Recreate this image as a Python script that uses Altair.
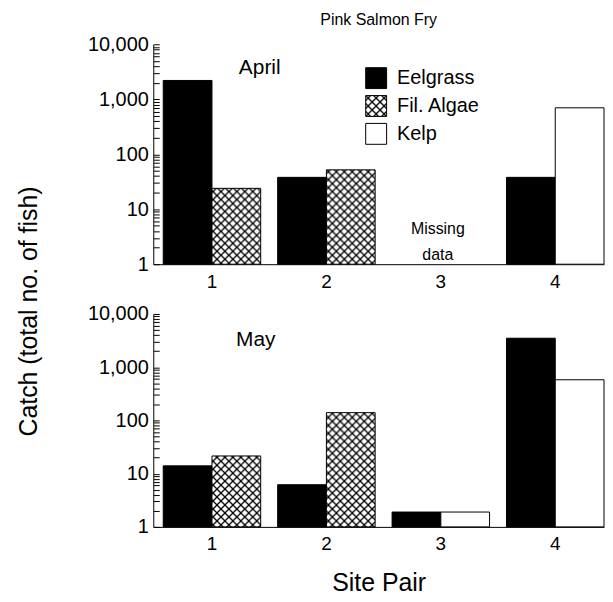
import altair as alt
import pandas as pd

# ---------------- data ----------------
sites = ["1", "2", "3", "4"]
other_habitat = ["Fil. Algae", "Fil. Algae", "Kelp", "Kelp"]
april_eelgrass = [2200, 38, None, 38]
april_other = [24, 52, None, 700]
may_eelgrass = [14, 6.2, 1.9, 3500]
may_other = [21.5, 140, 1.9, 580]
habitats = ["Eelgrass", "Fil. Algae", "Kelp"]
habitat_fills = ["black", "url(#xhatch)", "white"]
y_major = [1, 10, 100, 1000, 10000]
y_minor = [1, 2, 3, 4, 5, 6, 7, 8, 9,
           10, 20, 30, 40, 50, 60, 70, 80, 90,
           100, 200, 300, 400, 500, 600, 700, 800, 900,
           1000, 2000, 3000, 4000, 5000, 6000, 7000, 8000, 9000, 10000]
title_text = "Pink Salmon Fry"
y_title = "Catch  (total no. of fish)"
x_title = "Site Pair"
FONT = "Liberation Sans"


def rows(eel, oth):
    out = []
    for s, h, e, o in zip(sites, other_habitat, eel, oth):
        if e is not None:
            out.append({"site": s, "habitat": "Eelgrass", "slot": "a", "value": e})
        if o is not None:
            out.append({"site": s, "habitat": h, "slot": "b", "value": o})
    return pd.DataFrame(out)


W = 453


def panel(df, h, month, month_val, month_dx, top):
    yscale = alt.Scale(type="log", domain=[1, 10000], nice=False)
    xscale = alt.Scale(domain=sites, paddingInner=0.148, paddingOuter=0.0435, align=1)
    offscale = alt.Scale(domain=["a", "b"], paddingInner=0, paddingOuter=0)

    xaxis_kw = dict(labelAngle=0, ticks=False, labelPadding=8, labelFontSize=19,
                    domainColor="black", labelColor="black", grid=False)
    if top:
        xaxis_kw["title"] = None
    else:
        xaxis_kw.update(title=x_title, titleFontSize=25, titleFontWeight="normal",
                        titlePadding=17, titleColor="black")
    xaxis = alt.Axis(**xaxis_kw)

    yaxis_kw = dict(values=y_major, format=",", ticks=False, labelPadding=5,
                    labelFontSize=20, domainColor="black", labelColor="black", grid=False)
    if top:
        yaxis_kw.update(title=y_title, titleFontSize=25, titleFontWeight="normal",
                        titleAngle=270, titleAlign="center", titleBaseline="alphabetic",
                        titleX=-117, titleY=268, titleColor="black")
    else:
        yaxis_kw["title"] = None

    if top:
        legend = alt.Legend(orient="none", legendX=213, legendY=23, title=None,
                            symbolType="square", symbolSize=441, symbolStrokeColor="black",
                            symbolStrokeWidth=1, labelFontSize=20, labelOffset=10,
                            rowPadding=2, padding=0, labelColor="black", symbolOpacity=1)
    else:
        legend = None

    bars = alt.Chart(df).mark_bar(stroke="black", strokeWidth=1).encode(
        x=alt.X("site:N", scale=xscale, axis=xaxis),
        xOffset=alt.XOffset("slot:N", scale=offscale),
        y=alt.Y("value:Q", scale=yscale, axis=alt.Axis(**yaxis_kw)),
        y2=alt.datum(1),
        fill=alt.Fill("habitat:N", scale=alt.Scale(domain=habitats, range=habitat_fills),
                      legend=legend),
    )

    tick_layer = alt.Chart(df).mark_bar(opacity=0).encode(
        x=alt.X("site:N", scale=xscale, axis=xaxis),
        xOffset=alt.XOffset("slot:N", scale=offscale),
        y=alt.Y("value:Q", scale=yscale,
                axis=alt.Axis(orient="right", offset=-W, values=y_minor, labels=False,
                              domain=False, tickSize=6, tickColor="black", title=None,
                              grid=False)),
        y2=alt.datum(1),
    )

    mdf = pd.DataFrame({"site": ["1"], "value": [month_val], "label": [month]})
    mtext = alt.Chart(mdf).mark_text(fontSize=21, dx=month_dx, color="black",
                                     baseline="middle").encode(
        x=alt.X("site:N", scale=xscale, axis=xaxis),
        y=alt.Y("value:Q", scale=yscale, axis=None),
        text="label:N",
    )
    layers = [bars, tick_layer, mtext]
    if top:
        ndf = pd.DataFrame({"site": ["3", "3"], "value": [4.3, 1.45],
                            "label": ["Missing", "data"]})
        ntext = alt.Chart(ndf).mark_text(fontSize=16, dx=-3, color="black",
                                         baseline="middle").encode(
            x=alt.X("site:N", scale=xscale, axis=xaxis),
            y=alt.Y("value:Q", scale=yscale, axis=None),
            text="label:N",
        )
        layers.append(ntext)

    props = dict(width=W, height=h)
    if top:
        props["title"] = alt.TitleParams(title_text, fontSize=16, fontWeight="normal",
                                         anchor="middle", offset=6, color="black")
    return alt.layer(*layers).resolve_axis(y="independent").properties(**props)


top = panel(rows(april_eelgrass, april_other), 221, "April", 3680, 48, True)
bottom = panel(rows(may_eelgrass, may_other), 214, "May", 3240, 44, False)

chart = alt.vconcat(top, bottom, spacing=50, bounds="flush").resolve_legend(
    fill="independent"
).properties(
    padding={"left": 9, "top": 3, "right": 0, "bottom": 5}
).configure(
    font=FONT,
).configure_view(stroke=None).configure_axis(labelFont=FONT, titleFont=FONT)

TEMPLATE_SRC = """<!DOCTYPE html>
<html>
<head>
  <style>
    #{{ output_div }}.vega-embed {
      width: 100%;
      display: flex;
    }
    #{{ output_div }}.vega-embed details,
    #{{ output_div }}.vega-embed details summary {
      position: relative;
    }
  </style>
  <script type="text/javascript" src="{{ base_url }}/vega@{{ vega_version }}"></script>
  <script type="text/javascript" src="{{ base_url }}/vega-lite@{{ vegalite_version }}"></script>
  <script type="text/javascript" src="{{ base_url }}/vega-embed@{{ vegaembed_version }}"></script>
</head>
<body>
  <svg width="0" height="0" style="position:absolute;left:0;top:0" aria-hidden="true">
    <defs>
      <pattern id="xhatch" patternUnits="userSpaceOnUse" width="8" height="8">
        <rect x="0" y="0" width="8" height="8" fill="white"></rect>
        <path d="M0,0L8,8M8,0L0,8" stroke="black" stroke-width="1.3" fill="none"></path>
      </pattern>
    </defs>
  </svg>
  <div id="{{ output_div }}"></div>
  <script>
    (function(vegaEmbed) {
      var spec = {{ spec }};
      var embedOpt = {{ embed_options }};
      function showError(el, error){
          el.innerHTML = ('<div style="color:red;"><p>JavaScript Error: ' + error.message + '</p></div>');
          throw error;
      }
      const el = document.getElementById('{{ output_div }}');
      vegaEmbed("#{{ output_div }}", spec, embedOpt)
        .catch(error => showError(el, error));
    })(vegaEmbed);
  </script>
</body>
</html>
"""

try:
    import jinja2
    _tmpl = jinja2.Template(TEMPLATE_SRC)
    chart.save("out.html", embed_options={"renderer": "svg", "actions": False},
               template=_tmpl)
except Exception:
    chart.save("out.html", embed_options={"renderer": "svg", "actions": False})
